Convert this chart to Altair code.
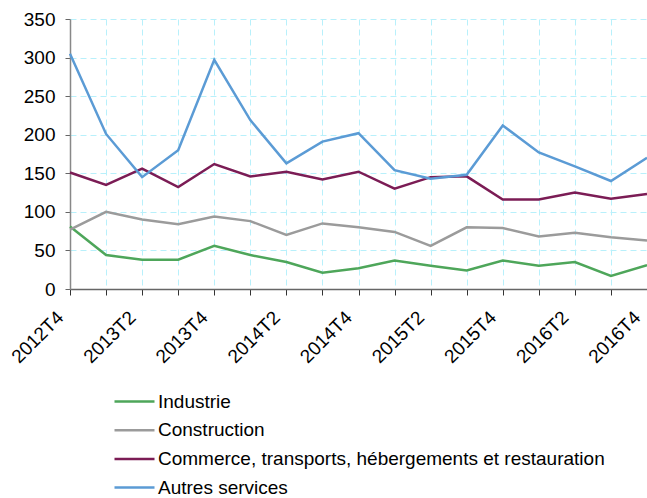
import altair as alt
import pandas as pd

quarters = ["2012T4", "2013T1", "2013T2", "2013T3", "2013T4", "2014T1", "2014T2", "2014T3",
            "2014T4", "2015T1", "2015T2", "2015T3", "2015T4", "2016T1", "2016T2", "2016T3", "2016T4"]

series_names = ["Industrie", "Construction",
                "Commerce, transports, hébergements et restauration", "Autres services"]

industrie = [81, 44, 38, 38, 56, 44, 35, 21, 27, 37, 30, 24, 37, 30, 35, 17, 31]
construction = [77, 100, 90, 84, 94, 88, 70, 85, 80, 74, 56, 80, 79, 68, 73, 67, 63]
commerce = [151, 135, 156, 132, 162, 146, 152, 142, 152, 130, 145, 146, 116, 116, 125, 117, 123]
autres = [305, 201, 145, 180, 297, 219, 163, 191, 202, 154, 143, 148, 212, 177, 159, 140, 170]

colors = ["#4ea65a", "#9b9b9b", "#7b1c55", "#5b9bd5"]

rows = []
for name, vals in zip(series_names, [industrie, construction, commerce, autres]):
    for q, v in zip(quarters, vals):
        rows.append({"trimestre": q, "serie": name, "valeur": v})
df = pd.DataFrame(rows)

FONT = "Liberation Sans"
GRID = "#b8f0fb"

chart = alt.Chart(df).mark_line(strokeWidth=2.5).encode(
    x=alt.X("trimestre:O", sort=quarters,
            scale=alt.Scale(type="point", padding=0),
            axis=alt.Axis(title=None, labelAngle=-45, labelAlign="right", labelBaseline="middle",
                          labelExpr="test(/T[24]$/, datum.label) ? datum.label : ''",
                          labelFont=FONT, labelFontSize=19, labelColor="#000",
                          labelPadding=19, labelOffset=-10,
                          grid=True, gridColor=GRID, gridDash=[6, 4], gridWidth=1,
                          tickColor="#333", tickSize=6, domainColor="#666", domainWidth=1.5)),
    y=alt.Y("valeur:Q", scale=alt.Scale(domain=[0, 350], nice=False),
            axis=alt.Axis(title=None, values=[0, 50, 100, 150, 200, 250, 300, 350],
                          labelFont=FONT, labelFontSize=19, labelColor="#000", labelPadding=10,
                          grid=True, gridColor=GRID, gridDash=[6, 4], gridWidth=1,
                          tickColor="#666", tickSize=5, domainColor="#888", domainWidth=1.5)),
    color=alt.Color("serie:N", sort=series_names,
                    scale=alt.Scale(domain=series_names, range=colors),
                    legend=alt.Legend(title=None, orient="none", legendX=55, legendY=373,
                                      direction="vertical", symbolType="M-4,0L4,0", symbolSize=100,
                                      symbolStrokeWidth=2.5, labelFont=FONT, labelFontSize=19,
                                      labelColor="#000", labelOffset=14, rowPadding=8.7,
                                      labelLimit=600)),
).properties(
    width=577, height=270,
    autosize=alt.AutoSizeParams(type="none"),
    padding={"left": 70, "top": 19, "right": 0, "bottom": 209},
).configure_view(stroke=None)

chart.save("out.html", embed_options={"renderer": "svg", "actions": False})
